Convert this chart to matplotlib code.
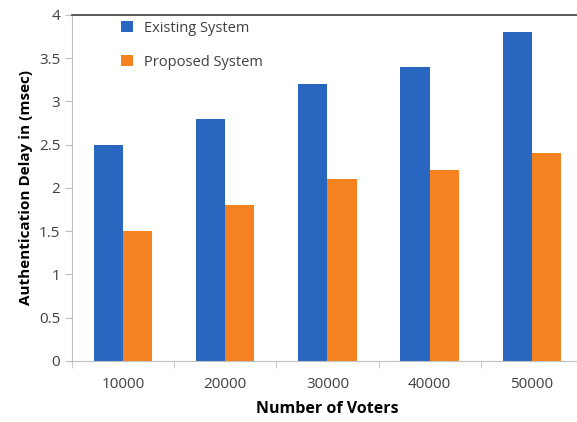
import matplotlib.pyplot as plt
import numpy as np

plt.rcParams['font.family'] = ['Open Sans', 'DejaVu Sans']

voters = ['10000', '20000', '30000', '40000', '50000']
existing = [2.5, 2.8, 3.2, 3.4, 3.8]
proposed = [1.5, 1.8, 2.1, 2.2, 2.4]

fig = plt.figure(figsize=(5.77, 4.22), dpi=100)
ax = fig.add_axes([0.125, 0.145, 0.885, 0.82])

x = np.arange(len(voters))
w = 0.285
ax.bar(x - w / 2, existing, w, color='#2966C0', label='Existing System')
ax.bar(x + w / 2, proposed, w, color='#F58220', label='Proposed System')

ax.set_xlim(-0.5, len(voters) - 0.5)
ax.set_ylim(0, 4)
ax.set_yticks(np.arange(0, 4.01, 0.5))
ax.set_yticklabels(['0', '0.5', '1', '1.5', '2', '2.5', '3', '3.5', '4'])
ax.set_xticks(x)
ax.set_xticklabels(voters)
ax.set_xticks(np.arange(-0.5, len(voters), 1), minor=True)
ax.tick_params(axis='x', which='major', length=0, pad=12, labelsize=11, colors='#404040')
ax.tick_params(axis='x', which='minor', length=5, color='#BFBFBF')
ax.tick_params(axis='y', length=5, color='#BFBFBF', labelsize=11, labelcolor='#404040')

for s in ['left', 'bottom']:
    ax.spines[s].set_color('#BFBFBF')
ax.spines['top'].set_color('#404040')
ax.spines['top'].set_linewidth(1.2)
ax.spines['right'].set_visible(False)

ax.set_xlabel('Number of Voters', fontweight='bold', fontsize=11.5, labelpad=6)
ax.set_ylabel('Authentication Delay in (msec)', fontweight='bold', fontsize=11)

ax.legend(loc='upper left', bbox_to_anchor=(0.07, 1.02), frameon=False, fontsize=10.5,
          handlelength=0.8, handleheight=0.8, labelspacing=1.3, labelcolor='#404040')

fig.savefig('out.png', dpi=100)
